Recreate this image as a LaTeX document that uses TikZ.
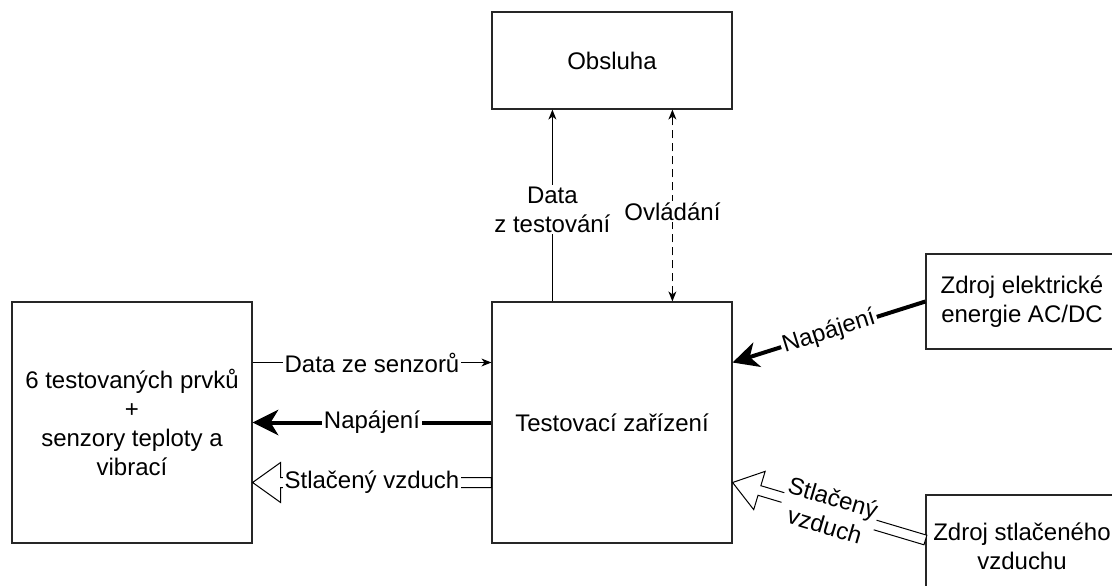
\documentclass[tikz,border=0pt]{standalone}
\usepackage{fontspec}
\setmainfont{Liberation Sans}
\usetikzlibrary{arrows.meta,calc}
\newcommand\flexarr[2]{%
  \path ($(#2)!28pt!(#1)$) coordinate (fah);
  \draw[line width=1pt, fill=white, line join=miter]
    ($(#1)!5pt!90:(#2)$) -- ($(fah)!5pt!90:(#2)$) -- ($(fah)!20pt!90:(#2)$) -- (#2)
    -- ($(fah)!20pt!-90:(#2)$) -- ($(fah)!5pt!-90:(#2)$) -- ($(#1)!5pt!-90:(#2)$) -- cycle;
}
\tikzset{
  box/.style={draw=black!85, line width=1.2pt, fill=white, inner sep=0pt, align=center},
  thinarr/.style={line width=1pt, -{Stealth[length=10pt,width=8pt,inset=3pt,line width=0pt]}},
  thickarr/.style={line width=4pt, -{Stealth[length=26pt,width=26pt,inset=8pt,line width=0pt]}},
  dasharr/.style={line width=1pt, dash pattern=on 8pt off 5pt,
    {Stealth[length=10pt,width=8pt,inset=3pt,line width=0pt]}-{Stealth[length=10pt,width=8pt,inset=3pt,line width=0pt]}},
  lbl/.style={fill=white, inner sep=2pt, align=center}
}
\begin{document}
\begin{tikzpicture}[x=1pt,y=-1pt,font=\fontsize{24}{29}\selectfont]
\useasboundingbox (0,0) rectangle (1112,586);
\clip (0,0) rectangle (1112,586);
\fill[white] (0,0) rectangle (1112,586);

\node[box, minimum width=240, minimum height=97] (obs) at (612,60.5) {Obsluha};
\node[box, minimum width=240, minimum height=241] (tz) at (612,422.5) {Testovací zařízení};
\node[box, minimum width=240, minimum height=241] (prv) at (132,422.5) {6 testovaných prvků\\+\\senzory teploty a\\vibrací};
\node[box, minimum width=192, minimum height=95] (zel) at (1022,301.5) {Zdroj elektrické\\energie AC/DC};
\node[box, minimum width=192, minimum height=102] (zst) at (1022,546) {Zdroj stlačeného\\vzduchu};

% top connectors
\draw[thinarr] ([xshift=61pt]tz.north west) -- ([xshift=61pt]obs.south west)
  node[lbl, midway, yshift=-4pt] {Data\\z testování};
\draw[dasharr] ([xshift=181pt]tz.north west) -- ([xshift=181pt]obs.south west)
  node[lbl, midway, yshift=-6pt] {Ovládání};

% left connectors
\draw[thinarr] ([yshift=60pt]prv.east) -- ([yshift=60pt]tz.west)
  node[lbl, midway] {Data ze senzorů};
\draw[thickarr] (tz.west) -- (prv.east) node[lbl, midway] {Napájení};
\coordinate (sva) at ([yshift=-60pt]tz.west);
\coordinate (svb) at ([yshift=-60pt]prv.east);
\flexarr{sva}{svb}
\node[lbl] (svl) at ($(sva)!0.5!(svb)$) {Stlačený vzduch};

% right connectors
\coordinate (napt) at ([yshift=60pt]tz.east);
\draw[thickarr] (zel.west) -- (napt) node[lbl, midway, sloped] {Napájení};
\coordinate (svc) at ([yshift=6pt]zst.west);
\coordinate (svd) at ([yshift=-60pt]tz.east);
\flexarr{svc}{svd}
\path (svc) -- (svd) node[lbl, midway, sloped] {Stlačený\\vzduch};
\end{tikzpicture}
\end{document}
